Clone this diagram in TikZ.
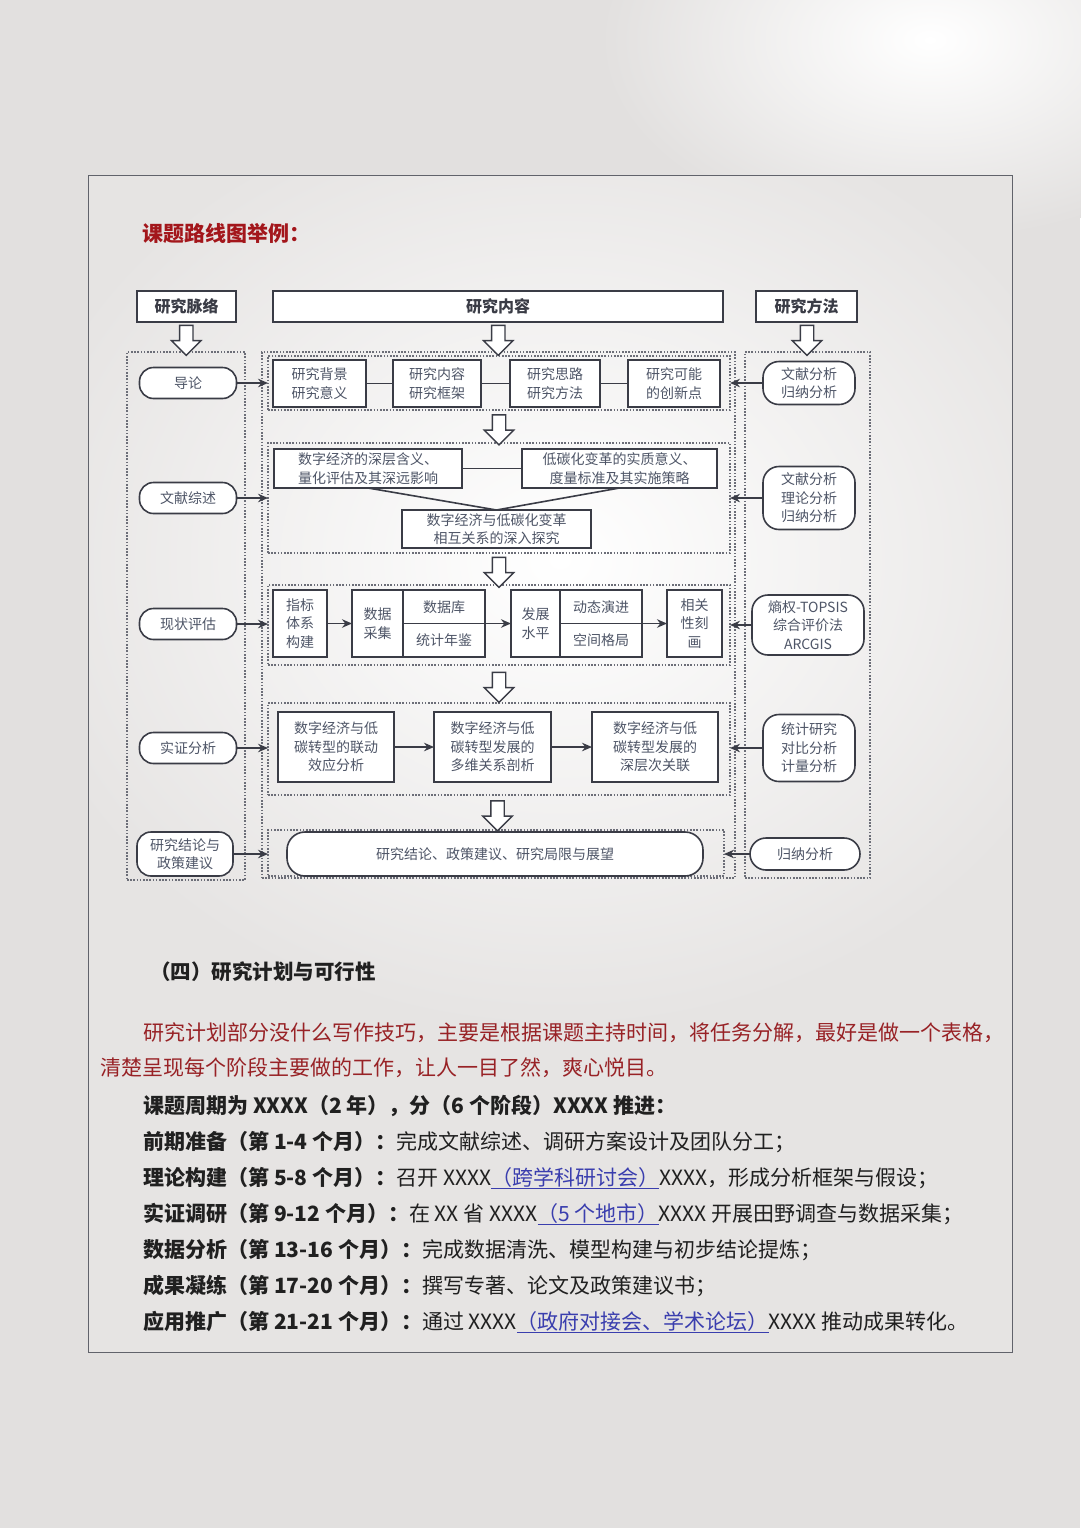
\documentclass[tikz,border=0pt]{standalone}
\usepackage{fontspec}
\setmainfont{Noto Sans CJK SC}
\usetikzlibrary{positioning,calc,arrows.meta,shapes.arrows}

\definecolor{pagegray}{HTML}{E2E0DF}
\definecolor{framegray}{HTML}{E6E4E3}
\definecolor{boxline}{HTML}{3A3C46}
\definecolor{boxtext}{HTML}{4E5567}
\definecolor{dotline}{HTML}{6C6E78}
\definecolor{titlered}{HTML}{A3161B}
\definecolor{parared}{HTML}{982226}
\definecolor{linkblue}{HTML}{3A3EAE}
\definecolor{bodyblack}{HTML}{202020}

\newcommand{\lnk}[1]{\textcolor{linkblue}{\underline{#1}}}

\begin{document}
\begin{tikzpicture}[
            x=1pt, y=-1pt,
            box/.style={
                draw=boxline,
                line width=1.6pt,
                fill=white,
                text=boxtext,
                align=center,
                inner sep=0pt,
                outer sep=0pt,
                font=\fontsize{14}{18.5}\selectfont
            },
            head/.style={
                box,
                text=boxline,
                minimum height=31pt,
                font=\fontsize{16}{18}\selectfont\bfseries
            },
            phase/.style={
                box,
                rounded corners=14pt,
                minimum width=97pt,
                minimum height=31pt
            },
            method/.style={
                box,
                rounded corners=16pt,
                minimum width=92pt
            },
            dotbox/.style={
                draw=dotline,
                line width=1.6pt,
                dash pattern=on 1.6pt off 1.6pt,
                inner sep=0pt,
                outer sep=0pt
            },
            hollow/.style={
                single arrow,
                draw=boxline,
                line width=1.4pt,
                fill=white,
                shape border rotate=270,
                minimum height=30pt,
                minimum width=28pt,
                single arrow head extend=8pt,
                inner sep=6pt
            },
            link/.style={
                draw=boxline,
                line width=1.6pt,
                -{Stealth[length=10pt, width=8.5pt]}
            },
            plain/.style={
                draw=boxline,
                line width=1.6pt
            },
            bodytxt/.style={
                anchor=west,
                inner sep=0pt,
                text=bodyblack,
                font=\fontsize{21}{24}\selectfont
            },
            redtxt/.style={
                anchor=west,
                inner sep=0pt,
                text=parared,
                font=\fontsize{21}{24}\selectfont
            }
        ]

            % page and frame
            \useasboundingbox (0,0) rectangle (1080,1528);
            \fill[pagegray] (0,0) rectangle (1080,1528);
            \shade[inner color=white, outer color=pagegray] (930,40) ellipse [x radius=330, y radius=200];
            \fill[framegray] (88,175) rectangle (1012,1352);
            \begin{scope}
                \clip (88,175) rectangle (1012,1352);
                \shade[inner color=white, outer color=framegray] (560,560) ellipse [x radius=560, y radius=470];
            \end{scope}
            \draw[boxline!80, line width=1pt] (88,175) rectangle (1012,1352);

            \node[anchor=west, inner sep=0pt, text=titlered, font=\fontsize{21}{22}\selectfont\bfseries]
                (tTitle) at (142,233) {课题路线图举例：};

            % column headers
            \node[head, minimum width=99pt] (hCtx) at (186.5,306.5) {研究脉络};
            \node[head, minimum width=450pt] (hCon) at (498,306.5) {研究内容};
            \node[head, minimum width=101pt] (hMet) at (806.5,306.5) {研究方法};

            % dotted columns and rows
            \node[dotbox, minimum width=118pt, minimum height=528pt] (colL) at (186,616) {};
            \node[dotbox, minimum width=473pt, minimum height=526pt] (colM) at (498.5,615) {};
            \node[dotbox, minimum width=125pt, minimum height=526pt] (colR) at (807.5,615) {};

            \node[dotbox, minimum width=462pt, minimum height=54pt] (r1) at (499,383) {};
            \node[dotbox, minimum width=462pt, minimum height=110pt] (r2) at (499,498) {};
            \node[dotbox, minimum width=462pt, minimum height=80pt] (r3) at (499,625) {};
            \node[dotbox, minimum width=462pt, minimum height=92pt] (r4) at (499,749) {};
            \node[dotbox, minimum width=456pt, minimum height=46pt] (r5) at (496,853) {};

            % hollow arrows
            \node[hollow] (aCtx) at ($(hCtx.south)!0.5!(colL.north)$) {};
            \node[hollow] (aCon) at ($(hCon.south)!0.5!(colM.north)$) {};
            \node[hollow] (aMet) at ($(hMet.south)!0.5!(colR.north)$) {};
            \node[hollow] (a12) at ($(r1.south)!0.5!(r2.north)$) {};
            \node[hollow] (a23) at ($(r2.south)!0.5!(r3.north)$) {};
            \node[hollow] (a34) at ($(r3.south)!0.5!(r4.north)$) {};
            \node[hollow] (a45) at ($(r4.south)!0.5!(r5.north)$) {};

            % left column
            \node[phase] (pIntro) at (188,383) {导论};
            \node[phase] (pLit) at (188,498) {文献综述};
            \node[phase] (pStat) at (188,624) {现状评估};
            \node[phase] (pEmp) at (188,748) {实证分析};
            \node[phase, minimum width=96pt, minimum height=44pt] (pConc) at (185,854) {研究结论与\\政策建议};

            % right column
            \node[method, minimum height=43pt] (mIntro) at (809,383) {文献分析\\归纳分析};
            \node[method, minimum height=63pt] (mLit) at (809,498) {文献分析\\理论分析\\归纳分析};
            \node[method, minimum width=112pt, minimum height=60pt] (mStat) at (808,625) {熵权-TOPSIS\\综合评价法\\ARCGIS};
            \node[method, minimum height=67pt] (mEmp) at (809,748) {统计研究\\对比分析\\计量分析};
            \node[method, minimum width=110pt, minimum height=32pt] (mConc) at (805,854) {归纳分析};

            % row 1
            \node[box, minimum width=93pt, minimum height=47pt] (bBack) at (319.5,383.5) {研究背景\\研究意义};
            \node[box, minimum width=88pt, minimum height=47pt] (bCont) at (437,383.5) {研究内容\\研究框架};
            \node[box, minimum width=90pt, minimum height=47pt] (bIdea) at (555,383.5) {研究思路\\研究方法};
            \node[box, minimum width=92pt, minimum height=47pt] (bInno) at (674,383.5) {研究可能\\的创新点};
            \draw[plain] (bBack) -- (bCont);
            \draw[plain] (bCont) -- (bIdea);
            \draw[plain] (bIdea) -- (bInno);

            % row 2
            \node[box, minimum width=188pt, minimum height=39pt] (bDig) at (368,468.5) {数字经济的深层含义、\\量化评估及其深远影响};
            \node[box, minimum width=195pt, minimum height=39pt] (bLow) at (619.5,468.5) {低碳化变革的实质意义、\\度量标准及其实施策略};
            \node[box, minimum width=189pt, minimum height=38pt] (bRel) at (496.5,529) {数字经济与低碳化变革\\相互关系的深入探究};
            \draw[plain] (bDig) -- (bLow);
            \draw[plain] (bDig.south) -- (bRel.north);
            \draw[plain] (bLow.south) -- (bRel.north);

            % row 3
            \node[box, minimum width=54pt, minimum height=67pt] (bIdx) at (300,623.5) {指标\\体系\\构建};
            \node[box, minimum width=51pt, minimum height=67pt] (bCol) at (377.5,623.5) {数据\\采集};
            \node[box, minimum width=82pt, minimum height=33.5pt] (bDb) at (444,606.75) {数据库};
            \node[box, minimum width=82pt, minimum height=33.5pt] (bYear) at (444,640.25) {统计年鉴};
            \node[box, minimum width=49pt, minimum height=67pt] (bLev) at (535.5,623.5) {发展\\水平};
            \node[box, minimum width=82pt, minimum height=33.5pt] (bDyn) at (601,606.75) {动态演进};
            \node[box, minimum width=82pt, minimum height=33.5pt] (bSpa) at (601,640.25) {空间格局};
            \node[box, minimum width=55pt, minimum height=67pt] (bCorr) at (694.5,623.5) {相关\\性刻\\画};
            \draw[link] (bIdx) -- (bCol);
            \draw[link] (bDb.south east) -- (bDb.south east -| bLev.west);
            \draw[link] (bDyn.south east) -- (bDyn.south east -| bCorr.west);

            % row 4
            \node[box, minimum width=116pt, minimum height=70pt] (bLink) at (336,747) {数字经济与低\\碳转型的联动\\效应分析};
            \node[box, minimum width=117pt, minimum height=70pt] (bMulti) at (492.5,747) {数字经济与低\\碳转型发展的\\多维关系剖析};
            \node[box, minimum width=126pt, minimum height=70pt] (bDeep) at (655,747) {数字经济与低\\碳转型发展的\\深层次关联};
            \draw[link] (bLink) -- (bMulti);
            \draw[link] (bMulti) -- (bDeep);

            % row 5
            \node[box, rounded corners=18pt, minimum width=416pt, minimum height=44pt] (bFinal) at (495,854) {研究结论、政策建议、研究局限与展望};

            % links from the side columns
            \draw[link] (pIntro.east) -- (pIntro.east -| r1.west);
            \draw[link] (pLit.east) -- (pLit.east -| r2.west);
            \draw[link] (pStat.east) -- (pStat.east -| r3.west);
            \draw[link] (pEmp.east) -- (pEmp.east -| r4.west);
            \draw[link] (pConc.east) -- (pConc.east -| r5.west);
            \draw[link] (mIntro.west) -- (mIntro.west -| r1.east);
            \draw[link] (mLit.west) -- (mLit.west -| r2.east);
            \draw[link] (mStat.west) -- (mStat.west -| r3.east);
            \draw[link] (mEmp.west) -- (mEmp.west -| r4.east);
            \draw[link] (mConc.west) -- (mConc.west -| r5.east);

            % plan text
            \node[bodytxt, font=\fontsize{20.5}{24}\selectfont\bfseries] (tPlan) at (150,972) {（四）研究计划与可行性};
            \node[redtxt] (tRed1) at (143,1033) {研究计划部分没什么写作技巧，主要是根据课题主持时间，将任务分解，最好是做一个表格，};
            \node[redtxt] (tRed2) at (100,1068) {清楚呈现每个阶段主要做的工作，让人一目了然，爽心悦目。};
            \node[bodytxt] (tCycle) at (143,1106) {\bfseries 课题周期为 XXXX（2 年），分（6 个阶段）XXXX 推进：};
            \node[bodytxt] (tS1) at (143,1142) {{\bfseries 前期准备（第 1-4 个月）：}完成文献综述、调研方案设计及团队分工；};
            \node[bodytxt] (tS2) at (143,1178) {{\bfseries 理论构建（第 5-8 个月）：}召开 XXXX\lnk{（跨学科研讨会）}XXXX，形成分析框架与假设；};
            \node[bodytxt] (tS3) at (143,1214) {{\bfseries 实证调研（第 9-12 个月）：}在 XX 省 XXXX\lnk{（5 个地市）}XXXX 开展田野调查与数据采集；};
            \node[bodytxt] (tS4) at (143,1250) {{\bfseries 数据分析（第 13-16 个月）：}完成数据清洗、模型构建与初步结论提炼；};
            \node[bodytxt] (tS5) at (143,1286) {{\bfseries 成果凝练（第 17-20 个月）：}撰写专著、论文及政策建议书；};
            \node[bodytxt] (tS6) at (143,1322) {{\bfseries 应用推广（第 21-21 个月）：}通过 XXXX\lnk{（政府对接会、学术论坛）}XXXX 推动成果转化。};

        \end{tikzpicture}
\end{document}
